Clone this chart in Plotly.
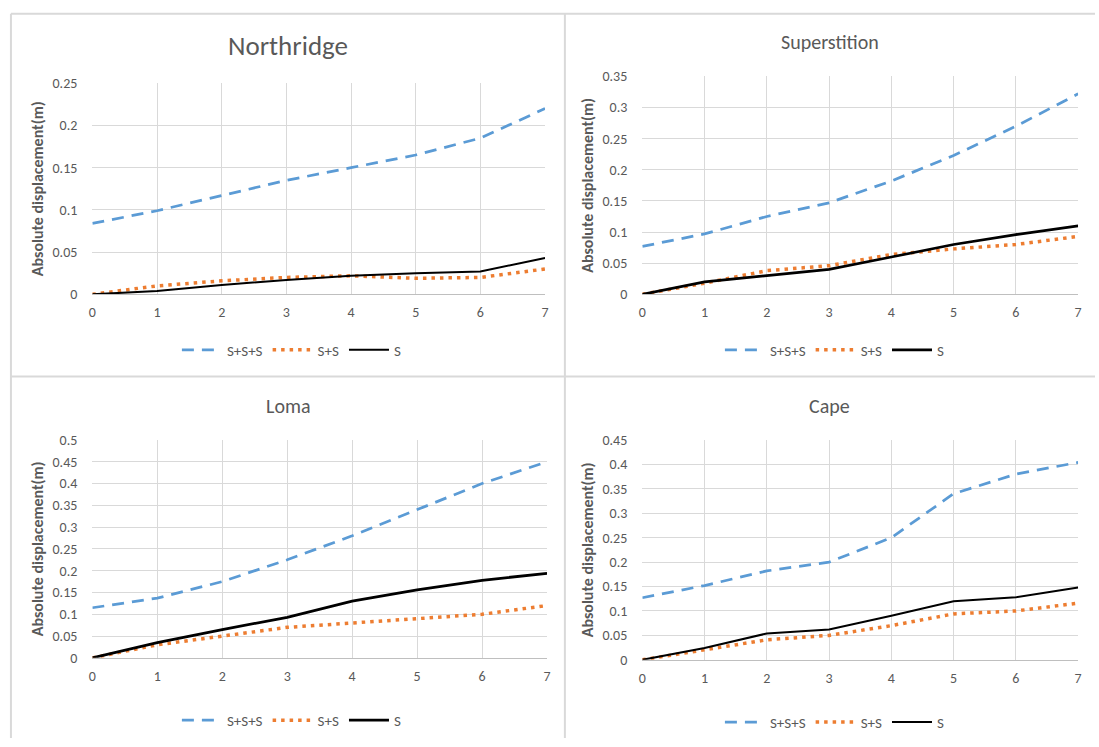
import plotly.graph_objects as go

# Step index along the x axis
steps = [0, 1, 2, 3, 4, 5, 6, 7]
series_names = ["S+S+S", "S+S", "S"]

# Absolute displacement (m) per record
northridge_sss = [0.084, 0.099, 0.117, 0.135, 0.150, 0.165, 0.185, 0.220]
northridge_ss = [0.0, 0.010, 0.016, 0.020, 0.022, 0.019, 0.020, 0.030]
northridge_s = [0.0, 0.004, 0.011, 0.017, 0.022, 0.025, 0.027, 0.043]

superstition_sss = [0.077, 0.097, 0.125, 0.147, 0.182, 0.223, 0.270, 0.322]
superstition_ss = [0.0, 0.018, 0.038, 0.046, 0.064, 0.073, 0.080, 0.093]
superstition_s = [0.0, 0.020, 0.030, 0.040, 0.060, 0.080, 0.096, 0.110]

loma_sss = [0.115, 0.137, 0.175, 0.225, 0.280, 0.340, 0.400, 0.450]
loma_ss = [0.0, 0.030, 0.050, 0.070, 0.080, 0.090, 0.100, 0.120]
loma_s = [0.0, 0.035, 0.065, 0.093, 0.130, 0.156, 0.178, 0.194]

cape_sss = [0.127, 0.152, 0.182, 0.200, 0.250, 0.340, 0.380, 0.404]
cape_ss = [0.0, 0.020, 0.041, 0.050, 0.070, 0.094, 0.100, 0.116]
cape_s = [0.0, 0.024, 0.054, 0.062, 0.090, 0.120, 0.128, 0.148]

W, H = 1099, 747
FONT = "Carlito, Calibri, Lato, 'Open Sans', sans-serif"
TXT = "#595959"
GRID = "#d9d9d9"

# panel: title, title size, series, y max, plot box in pixels (x0, x1, ytop, ybottom), legend name, S width
panels = [
    ("Northridge", 27, (northridge_sss, northridge_ss, northridge_s), 0.25, (89, 545, 77, 293), "legend", 2.0),
    ("Superstition", 20, (superstition_sss, superstition_ss, superstition_s), 0.35, (643, 1082, 70, 293), "legend2", 2.75),
    ("Loma", 20, (loma_sss, loma_ss, loma_s), 0.5, (89, 547, 442, 665), "legend3", 2.75),
    ("Cape", 20, (cape_sss, cape_ss, cape_s), 0.45, (643, 1082, 442, 667), "legend4", 2.0),
]
title_pos = [(286, 38), (832, 35), (287, 407), (832, 407)]
legend_pos = [(290, 350), (837, 350), (290, 729), (837, 731)]

styles = [
    dict(color="#5b9bd5", width=2.75, dash="12px,8px"),
    dict(color="#ed7d31", width=3.5, dash="3.5px,5px"),
    dict(color="#000000", width=2.0, dash="solid"),
]

fig = go.Figure()
layout = dict(
    width=W, height=H, margin=dict(l=0, r=0, t=0, b=0),
    paper_bgcolor="white", plot_bgcolor="white",
    font=dict(family=FONT, color=TXT),
    annotations=[], shapes=[],
)

for i, (title, tsize, data, ymax, box, leg, swidth) in enumerate(panels):
    n = "" if i == 0 else str(i + 1)
    x0, x1, yt, yb = box
    xa = dict(
        domain=[x0 / W, x1 / W], range=[0, 7], dtick=1, tick0=0,
        showgrid=True, gridcolor=GRID, gridwidth=1, zeroline=False,
        showline=True, linecolor="#bfbfbf", linewidth=1, mirror=False,
        ticks="", ticklabelstandoff=5, tickfont=dict(size=14, color=TXT, family=FONT),
        anchor="y" + n, fixedrange=True,
    )
    ya = dict(
        domain=[1 - yb / H, 1 - yt / H], range=[0, ymax], dtick=0.05, tick0=0,
        showgrid=True, gridcolor=GRID, gridwidth=1, zeroline=False,
        showline=False, ticks="", ticklabelstandoff=14, tickfont=dict(size=14, color=TXT, family=FONT),
        title=dict(text="<b>Absolute displacement(m)</b>", font=dict(size=16, color=TXT, family=FONT), standoff=4),
        anchor="x" + n, fixedrange=True,
    )
    layout["xaxis" + n] = xa
    layout["yaxis" + n] = ya

    for name, ys, st in zip(series_names, data, styles):
        line = dict(st)
        if name == "S":
            line["width"] = swidth
        fig.add_trace(go.Scatter(
            x=steps, y=ys, mode="lines", name=name, line=line,
            xaxis="x" + n, yaxis="y" + n, legend=leg, cliponaxis=False,
        ))

    tx, ty = title_pos[i]
    layout["annotations"].append(dict(
        text=title, x=tx / W, y=1 - ty / H, xref="paper", yref="paper",
        xanchor="center", yanchor="middle", showarrow=False,
        font=dict(size=tsize, color=TXT, family=FONT),
    ))
    lx, ly = legend_pos[i]
    layout[leg] = dict(
        orientation="h", x=lx / W, y=1 - ly / H, xanchor="center", yanchor="middle",
        xref="paper", yref="paper", bgcolor="rgba(0,0,0,0)",
        font=dict(size=15, color=TXT, family=FONT), itemwidth=40, tracegroupgap=0,
    )

# Light gray frames separating the four chart panels
for sh in [
    dict(x0=7, x1=7, y0=6, y1=H),
    dict(x0=565, x1=565, y0=6, y1=H),
    dict(x0=7, x1=W, y0=6, y1=6),
    dict(x0=7, x1=W, y0=377, y1=377),
]:
    layout["shapes"].append(dict(
        type="line", xref="paper", yref="paper",
        x0=sh["x0"] / W, x1=sh["x1"] / W, y0=1 - sh["y0"] / H, y1=1 - sh["y1"] / H,
        line=dict(color="#d9d9d9", width=2), layer="below",
    ))

fig.update_layout(**layout)
fig.write_html("out.html")
